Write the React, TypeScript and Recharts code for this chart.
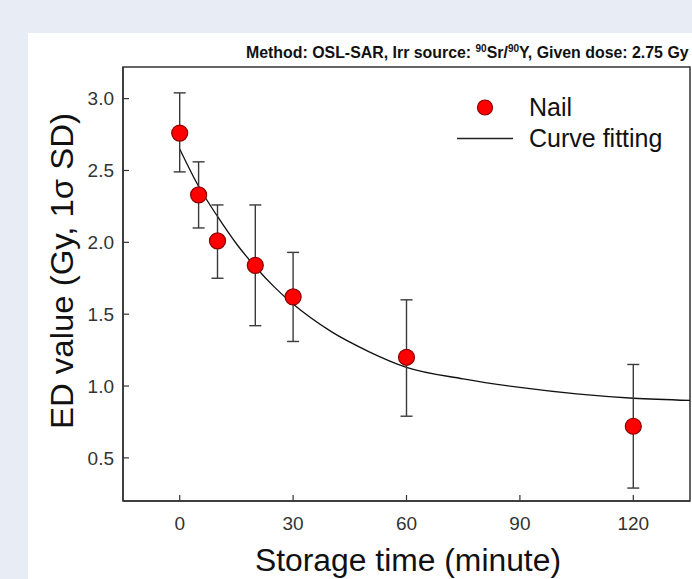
import React from 'react'
import {
  ComposedChart,
  XAxis,
  YAxis,
  Scatter,
  Line,
  ErrorBar,
  ReferenceArea,
  Legend,
  Label,
} from 'recharts'

// measured points (storage time in minutes, ED in Gy)
const storageTime = [0, 5, 10, 20, 30, 60, 120]
const edValue = [2.76, 2.33, 2.01, 1.84, 1.62, 1.2, 0.72]
const errTop = [3.04, 2.56, 2.26, 2.26, 1.93, 1.6, 1.15]
const errBottom = [2.49, 2.1, 1.75, 1.42, 1.31, 0.79, 0.29]

// fitted curve
const fitTime = [0, 5, 10, 15, 20, 25, 30, 40, 50, 60, 75, 90, 105, 120, 135]
const fitValue = [2.65, 2.39, 2.18, 1.99, 1.83, 1.69, 1.57, 1.38, 1.24, 1.13, 1.05, 0.99, 0.945, 0.915, 0.9]

const xTicks = [0, 30, 60, 90, 120]
const yTicks = [0.5, 1.0, 1.5, 2.0, 2.5, 3.0]

const FONT = '"Liberation Sans", Arial, Helvetica, sans-serif'
const INK = '#333'

const scatterData = storageTime.map((t, i) => ({
  t,
  ed: edValue[i],
  err: [edValue[i] - errBottom[i], errTop[i] - edValue[i]],
}))
const fitData = fitTime.map((t, i) => ({ t, fit: fitValue[i] }))

const NailDot = (props: any) => (
  <circle cx={props.cx} cy={props.cy} r={8} fill="#ff0000" stroke="#8a0000" strokeWidth={1.2} />
)

const XTitle = () => (
  <text
    x={408}
    y={571}
    textAnchor="middle"
    fontSize={31}
    fill="#111"
    fontFamily={FONT}
    textLength={306}
    lengthAdjust="spacingAndGlyphs"
  >
    Storage time (minute)
  </text>
)

const YTitle = () => (
  <text
    x={73}
    y={271}
    transform="rotate(-90 73 271)"
    textAnchor="middle"
    fontSize={32}
    fill="#111"
    fontFamily={FONT}
    textLength={316}
    lengthAdjust="spacingAndGlyphs"
  >
    ED value (Gy, 1σ SD)
  </text>
)

function renderLegend({ payload }: any) {
  const items = [...(payload ?? [])].sort((a, b) => (a.type === 'line' ? 1 : 0) - (b.type === 'line' ? 1 : 0))
  return (
    <div style={{ fontFamily: FONT, fontSize: 25, color: '#111' }}>
      {items.map((entry: any) => (
        <div key={entry.value} style={{ display: 'flex', alignItems: 'center', height: 31 }}>
          <svg width={56} height={31} style={{ marginRight: 16 }}>
            {entry.type === 'line' ? (
              <line x1={0} x2={56} y1={15.5} y2={15.5} stroke="#222" strokeWidth={1.3} />
            ) : (
              <circle cx={28} cy={15.5} r={7.5} fill="#ff0000" stroke="#8a0000" strokeWidth={1.2} />
            )}
          </svg>
          <span style={{ lineHeight: '31px' }}>{entry.value}</span>
        </div>
      ))}
    </div>
  )
}

export default function App() {
  const tickStyle = { fill: INK, fontSize: 19, fontFamily: FONT }
  return (
    <div
      style={{
        position: 'absolute',
        left: 0,
        top: 0,
        width: 692,
        height: 579,
        overflow: 'hidden',
        background: '#e8ecf4',
        fontFamily: FONT,
      }}
    >
      <div style={{ position: 'absolute', left: 28, top: 33, right: 0, bottom: 0, background: '#fff' }} />
      <div
        style={{
          position: 'absolute',
          left: 246,
          top: 45,
          fontSize: 15.9,
          fontWeight: 700,
          lineHeight: 1,
          whiteSpace: 'nowrap',
          color: '#111',
        }}
      >
        Method: OSL-SAR, Irr source: <span style={{ fontSize: 10, position: 'relative', top: -6 }}>90</span>Sr/
        <span style={{ fontSize: 10, position: 'relative', top: -6 }}>90</span>Y, Given dose: 2.75 Gy
      </div>
      <div style={{ position: 'absolute', left: 0, top: 0 }}>
        <ComposedChart width={692} height={579} margin={{ top: 67, right: 2, bottom: 0, left: 0 }}>
          <XAxis
            type="number"
            dataKey="t"
            domain={[-15, 135]}
            ticks={xTicks}
            allowDataOverflow
            height={78}
            stroke={INK}
            axisLine={{ stroke: INK, strokeWidth: 1.5 }}
            tickLine={{ stroke: INK, strokeWidth: 1.2 }}
            tickSize={-6}
            tickMargin={22}
            tick={tickStyle}
          >
            <Label content={XTitle} />
          </XAxis>
          <YAxis
            type="number"
            domain={[0.2, 3.22]}
            ticks={yTicks}
            allowDataOverflow
            width={123}
            stroke={INK}
            axisLine={{ stroke: INK, strokeWidth: 1.5 }}
            tickLine={{ stroke: INK, strokeWidth: 1.2 }}
            tickSize={-6}
            tickMargin={15}
            tick={tickStyle}
            tickFormatter={(v: number) => v.toFixed(1)}
          >
            <Label content={YTitle} />
          </YAxis>
          <ReferenceArea x1={-15} x2={135} y1={0.2} y2={3.22} fill="none" stroke={INK} strokeWidth={1.5} />
          <Line
            data={fitData}
            dataKey="fit"
            name="Curve fitting"
            type="monotone"
            stroke="#111"
            strokeWidth={1.3}
            dot={false}
            activeDot={false}
            legendType="line"
            isAnimationActive={false}
          />
          <Scatter
            data={scatterData}
            dataKey="ed"
            name="Nail"
            shape={NailDot}
            legendType="circle"
            isAnimationActive={false}
          >
            <ErrorBar dataKey="err" direction="y" width={6} stroke="#3a3a3a" strokeWidth={1.4} isAnimationActive={false} />
          </Scatter>
          <Legend
            layout="vertical"
            align="center"
            verticalAlign="middle"
            wrapperStyle={{ left: 457, top: 92, width: 235 }}
            content={renderLegend}
          />
        </ComposedChart>
      </div>
    </div>
  )
}
